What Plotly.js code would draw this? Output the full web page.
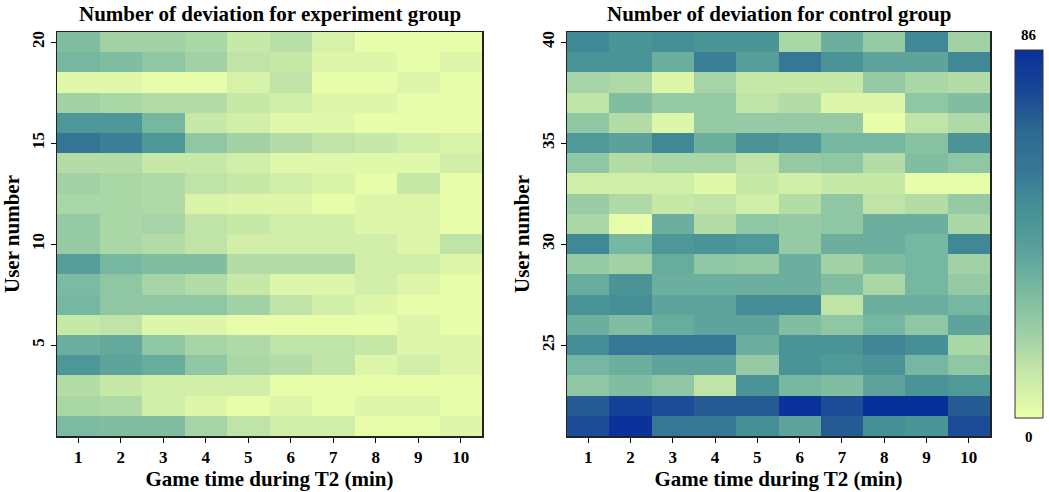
<!DOCTYPE html>
<html>
<head>
<meta charset="utf-8">
<script src="https://cdn.plot.ly/plotly-3.0.1.min.js"></script>
<style>html,body{margin:0;padding:0;background:#fff;}#chart{width:1049px;height:492px;}</style>
</head>
<body>
<div id="chart"></div>
<script>
// Game time (minutes) on x
const minutes = [1,2,3,4,5,6,7,8,9,10];
const xTickLabels = ['1','2','3','4','5','6','7','8','9','10'];

// Experiment group: users 20 down to 1
const expUsers = [20,19,18,17,16,15,14,13,12,11,10,9,8,7,6,5,4,3,2,1];
const expDeviation = [
  [28,19,19,17,10,14,6,1,1,1],
  [31,28,24,19,12,10,4,4,1,4],
  [3,3,1,1,6,12,1,1,4,1],
  [19,17,15,15,10,7,4,4,1,1],
  [45,45,31,10,7,3,3,1,1,1],
  [60,55,45,24,19,15,12,10,7,5],
  [15,15,10,10,7,3,3,3,3,7],
  [19,17,16,12,10,7,5,1,10,1],
  [17,17,16,5,4,4,1,4,4,1],
  [22,17,18,12,10,7,7,4,4,1],
  [22,17,15,12,7,7,7,7,4,12],
  [41,31,28,28,15,15,15,7,7,4],
  [29,24,18,15,10,4,4,7,4,1],
  [31,24,24,24,19,12,7,4,1,1],
  [10,12,4,4,1,1,1,1,4,1],
  [34,36,24,18,16,12,12,10,4,4],
  [45,38,35,24,17,15,12,4,7,4],
  [15,10,7,7,7,1,1,1,1,1],
  [17,16,7,4,1,4,1,4,4,1],
  [29,28,28,18,12,7,7,1,1,4]
];

// Control group: users 40 down to 21
const ctrlUsers = [40,39,38,37,36,35,34,33,32,31,30,29,28,27,26,25,24,23,22,21];
const ctrlDeviation = [
  [52,46,49,46,46,17,34,22,52,19],
  [47,47,34,55,41,58,47,38,38,52],
  [18,16,4,18,10,10,10,22,17,15],
  [12,28,22,22,12,15,4,4,24,28],
  [24,15,4,22,22,22,22,1,12,16],
  [44,39,52,34,47,44,31,31,26,47],
  [24,15,17,17,12,22,24,15,28,24],
  [7,7,7,3,10,7,10,10,1,1],
  [21,16,10,12,7,15,24,12,15,22],
  [17,1,34,15,24,22,24,34,34,17],
  [52,31,45,47,44,22,34,34,31,52],
  [22,19,35,24,22,34,19,28,31,19],
  [35,47,34,34,34,34,28,17,31,22],
  [47,49,38,38,50,50,12,34,34,31],
  [34,28,35,38,38,28,24,31,24,38],
  [50,58,58,58,34,47,47,53,49,17],
  [31,34,38,38,22,47,44,47,31,24],
  [24,28,24,12,47,31,28,38,47,44],
  [71,79,75,71,71,85,75,86,86,71],
  [75,85,58,58,49,38,71,49,46,75]
];

const expTicks = [5,10,15,20];
const ctrlTicks = [25,30,35,40];
const zMin = 0, zMax = 86;

const cscale = [
  [0,'#ebffaa'],[0.13,'#c3e6a8'],[0.24,'#9bcda5'],[0.35,'#78b9a0'],
  [0.46,'#5aa09b'],[0.565,'#469196'],[0.67,'#377896'],[0.78,'#2d6991'],
  [0.89,'#194696'],[1,'#08309b']
];

const serif = 'Liberation Serif, Times New Roman, serif';
const tickFont = {family: serif, size: 17, color: '#000', weight: 'bold'};
const axTitleFont = {family: serif, size: 21, color: '#000', weight: 'bold'};

const data = [
  {type:'heatmap', x: minutes, y: expUsers, z: expDeviation, xaxis:'x', yaxis:'y',
   colorscale: cscale, zmin: zMin, zmax: zMax, showscale: false, hoverinfo:'skip'},
  {type:'heatmap', x: minutes, y: ctrlUsers, z: ctrlDeviation, xaxis:'x2', yaxis:'y2',
   colorscale: cscale, zmin: zMin, zmax: zMax, hoverinfo:'skip',
   colorbar: {x: 1015/1049, xanchor:'left', y: (436-234)/404, yanchor:'middle', len: 368/404, lenmode:'fraction',
     thickness: 28, thicknessmode:'pixels', xpad: 0, ypad: 0, outlinewidth: 1, outlinecolor:'#333',
     showticklabels: false, ticks: ''}}
];

function xax(domain, anchor){
  return {domain: domain, anchor: anchor, range:[0.5,10.5], tickvals: minutes, ticktext: xTickLabels,
    ticks:'outside', ticklen:5, tickwidth:1, tickcolor:'#000', tickfont: tickFont,
    showline:true, linecolor:'#222', linewidth:1.5, mirror:true, showgrid:false, zeroline:false,
    title:{text:'Game time during T2 (min)', font: axTitleFont, standoff: 3}};
}
function yax(anchor, range, ticks, title){
  const a = {anchor: anchor, domain:[0,1], range: range, tickvals: ticks, ticktext: ticks.map(String),
    ticks:'outside', ticklen:5, tickwidth:1, tickcolor:'#000', tickfont: tickFont, tickangle:-90,
    showline:true, linecolor:'#222', linewidth:1.5, mirror:true, showgrid:false, zeroline:false};
  a.title = {text: title, font: axTitleFont, standoff: 3};
  return a;
}

const layout = {
  width: 1049, height: 492,
  margin: {l:0, r:0, t:32, b:56, autoexpand:false},
  paper_bgcolor:'#fff', plot_bgcolor:'#fff',
  showlegend:false,
  xaxis: xax([57/1049, 482/1049], 'y'),
  yaxis: yax('x', [0.5,20.5], expTicks, 'User number'),
  xaxis2: xax([567/1049, 990/1049], 'y2'),
  yaxis2: yax('x2', [20.5,40.5], ctrlTicks, 'User number'),
  annotations: [
    {text:'Number of deviation for experiment group', xref:'paper', yref:'paper',
     x:(57+482)/2/1049, y:1, yshift: 18, xanchor:'center', yanchor:'middle', showarrow:false,
     font:{family: serif, size: 21, color:'#000', weight:'bold'}},
    {text:'Number of deviation for control group', xref:'paper', yref:'paper',
     x:(567+990)/2/1049, y:1, yshift: 18, xanchor:'center', yanchor:'middle', showarrow:false,
     font:{family: serif, size: 21, color:'#000', weight:'bold'}},
    {text: String(zMax), xref:'paper', yref:'paper', x:1029/1049, y:(436-35)/404, xanchor:'center', yanchor:'middle',
     showarrow:false, font:{family: serif, size: 15, color:'#000', weight:'bold'}},
    {text: String(zMin), xref:'paper', yref:'paper', x:1029/1049, y:(436-437)/404, xanchor:'center', yanchor:'middle',
     showarrow:false, font:{family: serif, size: 15, color:'#000', weight:'bold'}}
  ]
};

Plotly.newPlot('chart', data, layout, {staticPlot:true, displayModeBar:false});
</script>
</body>
</html>
